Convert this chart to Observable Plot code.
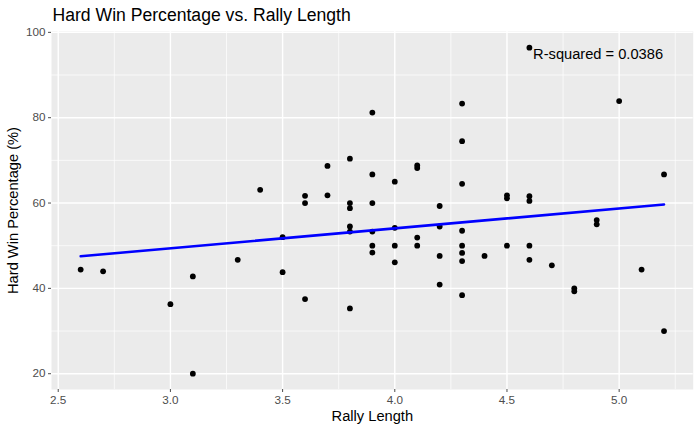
<!DOCTYPE html>
<html>
<head>
<meta charset="utf-8">
<script src="https://cdn.jsdelivr.net/npm/d3@7"></script>
<script src="https://cdn.jsdelivr.net/npm/@observablehq/plot@0.6"></script>
<style>
  html, body { margin: 0; padding: 0; background: #fff; }
  #chart { width: 700px; height: 432px; }
  svg { font-family: "Liberation Sans", Arial, Helvetica, sans-serif; }
</style>
</head>
<body>
<div id="chart"></div>
<script>
// Rally length (x) and hard-court win percentage (y)
const rallyLength = [
  2.6, 2.7, 3.0, 3.1, 3.1, 3.3, 3.4, 3.5, 3.5,
  3.6, 3.6, 3.6, 3.7, 3.7,
  3.8, 3.8, 3.8, 3.8, 3.8, 3.8,
  3.9, 3.9, 3.9, 3.9, 3.9, 3.9,
  4.0, 4.0, 4.0, 4.0,
  4.1, 4.1, 4.1, 4.1,
  4.2, 4.2, 4.2, 4.2,
  4.3, 4.3, 4.3, 4.3, 4.3, 4.3, 4.3, 4.3,
  4.4, 4.5, 4.5, 4.5,
  4.6, 4.6, 4.6, 4.6, 4.6,
  4.7, 4.8, 4.8, 4.9, 4.9, 5.0, 5.1, 5.2, 5.2
];
const hardWinPct = [
  44.4, 44.0, 36.3, 42.8, 20.0, 46.7, 63.1, 52.0, 43.8,
  61.7, 60.0, 37.5, 68.7, 61.8,
  70.4, 60.0, 58.8, 54.5, 53.3, 35.3,
  81.2, 66.7, 60.0, 53.3, 50.0, 48.4,
  65.0, 54.2, 50.0, 46.1,
  68.8, 68.2, 51.9, 50.0,
  59.3, 54.5, 47.6, 40.9,
  83.3, 74.5, 64.5, 53.5, 50.0, 48.3, 46.4, 38.4,
  47.6, 61.8, 61.1, 50.0,
  96.4, 61.6, 60.5, 50.0, 46.7,
  45.4, 40.0, 39.3, 56.0, 55.0, 83.9, 44.4, 66.7, 30.0
];
const xTicks = [2.5, 3.0, 3.5, 4.0, 4.5, 5.0];
const xMinor = [2.75, 3.25, 3.75, 4.25, 4.75, 5.25];
const yTicks = [20, 40, 60, 80, 100];
const yMinor = [30, 50, 70, 90];
const titleText = "Hard Win Percentage vs. Rally Length";
const xLabel = "Rally Length";
const yLabel = "Hard Win Percentage (%)";
const annotation = [{x: 4.906, y: 94.9, label: "R-squared = 0.0386"}];

const data = rallyLength.map((x, i) => ({x, y: hardWinPct[i]}));

const chart = Plot.plot({
  width: 700,
  height: 432,
  marginLeft: 51,
  marginRight: 7.3,
  marginTop: 31,
  marginBottom: 43,
  style: {fontFamily: '"Liberation Sans", Arial, Helvetica, sans-serif', background: "#fff"},
  x: {domain: [2.47, 5.33]},
  y: {domain: [16.3, 100.2]},
  marks: [
    Plot.frame({fill: "#EBEBEB", stroke: null}),
    Plot.gridX(xMinor, {stroke: "#fff", strokeOpacity: 1, strokeWidth: 0.7}),
    Plot.gridY(yMinor, {stroke: "#fff", strokeOpacity: 1, strokeWidth: 0.7}),
    Plot.gridX(xTicks, {stroke: "#fff", strokeOpacity: 1, strokeWidth: 1.4}),
    Plot.gridY(yTicks, {stroke: "#fff", strokeOpacity: 1, strokeWidth: 1.4}),
    Plot.axisX(xTicks, {tickSize: 3, tickPadding: 3, fontSize: 11.7, color: "#4D4D4D",
      tickFormat: d3.format(".1f"), label: null}),
    Plot.axisY(yTicks, {tickSize: 3, tickPadding: 3, fontSize: 11.7, color: "#4D4D4D",
      label: null}),
    Plot.dot(data, {x: "x", y: "y", r: 2.9, fill: "black", stroke: null}),
    Plot.linearRegressionY(data, {x: "x", y: "y", stroke: "blue", strokeWidth: 2.6, ci: 0}),
    Plot.text(annotation, {x: "x", y: "y", text: "label", fontSize: 14.67, fill: "black"}),
    Plot.text([xLabel], {frameAnchor: "bottom", dy: 27, lineAnchor: "middle", fontSize: 14.67, fill: "black"}),
    Plot.text([yLabel], {frameAnchor: "left", dx: -38, rotate: -90, textAnchor: "middle", lineAnchor: "middle", fontSize: 14.67, fill: "black"}),
    Plot.text([titleText], {frameAnchor: "top-left", dy: -16, dx: 1, textAnchor: "start", lineAnchor: "middle", fontSize: 17.6, fill: "black"})
  ]
});
document.getElementById("chart").appendChild(chart);
</script>
</body>
</html>
